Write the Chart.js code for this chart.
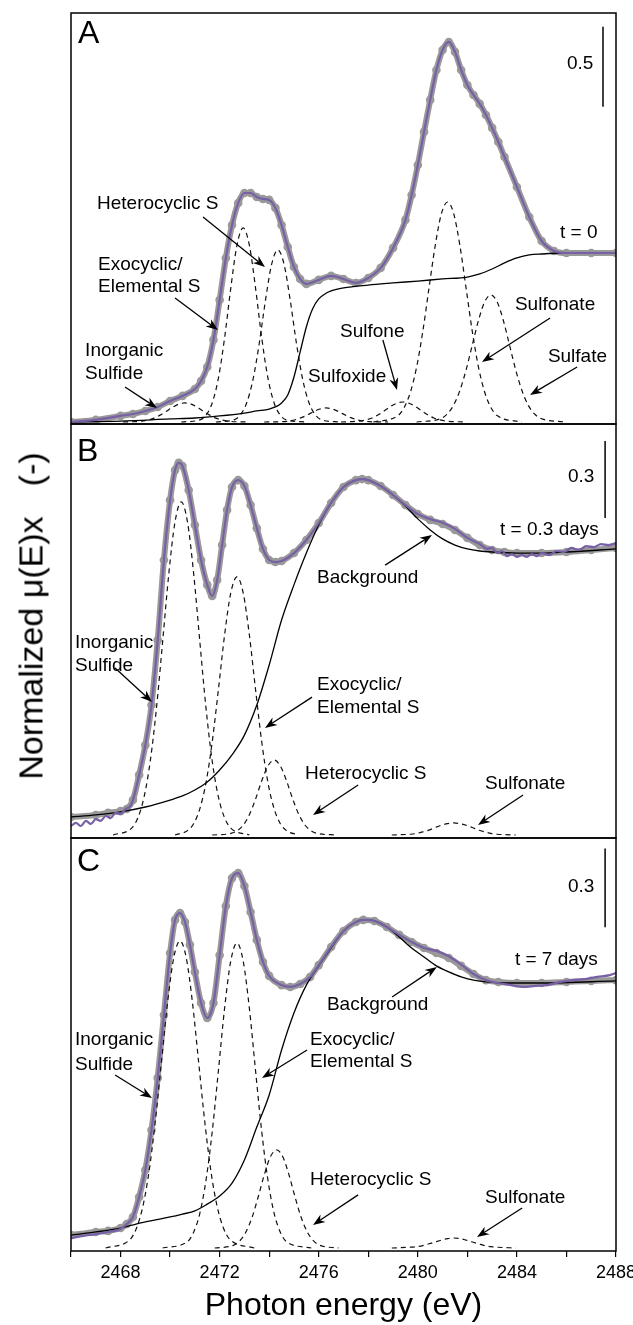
<!DOCTYPE html>
<html>
<head>
<meta charset="utf-8">
<script src="https://cdn.jsdelivr.net/npm/chart.js@4.4.1/dist/chart.umd.min.js"></script>
<style>
  html, body { margin: 0; padding: 0; background: #fff; }
  #wrap { position: relative; width: 633px; height: 1325px; overflow: hidden; }
  canvas { position: absolute; left: 0; }
  #ytitle {
    position: absolute; left: 31px; top: 616px;
    transform: translate(-50%, -50%) rotate(-90deg);
    font: 34px 'Liberation Sans', Arial, sans-serif; white-space: nowrap; color: #000;
  }
  #ytitle span { margin-left: 30px; }
</style>
</head>
<body>
<div id="wrap">
  <canvas id="panelA" width="633" height="430" style="top:0px"></canvas>
  <canvas id="panelB" width="633" height="426" style="top:418px"></canvas>
  <canvas id="panelC" width="633" height="493" style="top:832px"></canvas>
  <div id="ytitle">Normalized μ(E)x<span>(-)</span></div>
</div>
<script>
// ---- data: [photon energy (eV), normalized mu(E)x] ----

// panel A, t = 0
const fitA = [[2466,0],[2467,.013],[2468,.038],[2468.5,.050],[2469,.069],[2469.5,.094],[2470,.131],[2470.5,.163],
  [2471,.206],[2471.25,.256],[2471.5,.344],[2471.75,.513],[2472,.763],[2472.25,1.025],[2472.5,1.231],[2472.75,1.369],
  [2473,1.431],[2473.25,1.431],[2473.5,1.406],[2473.75,1.394],[2474,1.388],[2474.25,1.338],[2474.5,1.231],[2474.75,1.094],
  [2475,.969],[2475.25,.894],[2475.5,.863],[2476,.888],[2476.5,.913],[2477,.894],[2477.5,.869],[2478,.900],[2478.5,.963],
  [2479,1.088],[2479.5,1.263],[2479.75,1.419],[2480,1.606],[2480.25,1.813],[2480.5,2.013],[2480.75,2.200],[2481,2.325],
  [2481.25,2.375],[2481.5,2.313],[2481.75,2.200],[2482,2.106],[2482.25,2.044],[2482.5,1.988],[2482.75,1.919],[2483,1.838],
  [2483.25,1.750],[2483.5,1.656],[2484,1.469],[2484.5,1.281],[2485,1.131],[2485.5,1.069],[2486,1.056],[2487,1.056],[2488,1.056]];
const dataA = fitA;
const bgA = [[2466,0],[2468,.006],[2470,.019],[2471,.025],[2472,.038],[2473,.056],[2473.5,.069],[2474,.081],[2474.25,.094],
  [2474.5,.119],[2474.75,.169],[2475,.281],[2475.25,.438],[2475.5,.594],[2475.75,.706],[2476,.769],[2476.25,.800],[2476.5,.819],
  [2477,.838],[2478,.856],[2479,.869],[2480,.881],[2481,.894],[2482,.906],[2482.5,.925],[2483,.956],[2483.5,.994],[2484,1.025],
  [2484.5,1.044],[2485,1.050],[2486,1.056],[2488,1.056]];
const inorgA = [[2468.1,0],[2468.85,.005],[2469.1,.012],[2469.35,.024],[2469.6,.043],[2469.85,.067],[2470.1,.092],[2470.35,.112],
  [2470.6,.119],[2470.85,.112],[2471.1,.092],[2471.35,.067],[2471.6,.043],[2471.85,.024],[2472.1,.012],[2472.35,.005],[2473.1,0]];
const exoA = [[2470.45,0],[2471.2,.013],[2471.45,.042],[2471.7,.119],[2471.95,.274],[2472.2,.525],[2472.45,.837],[2472.7,1.105],
  [2472.95,1.213],[2473.2,1.105],[2473.45,.837],[2473.7,.525],[2473.95,.274],[2474.2,.119],[2474.45,.042],[2474.7,.013],[2475.45,0]];
const heteroA = [[2471.85,0],[2472.6,.015],[2472.85,.047],[2473.1,.123],[2473.35,.268],[2473.6,.492],[2473.85,.760],[2474.1,.986],
  [2474.35,1.075],[2474.6,.986],[2474.85,.760],[2475.1,.492],[2475.35,.268],[2475.6,.123],[2475.85,.047],[2476.1,.015],[2476.85,0]];
const sulfoxA = [[2473.8,0],[2474.55,.002],[2474.8,.006],[2475.05,.014],[2475.3,.027],[2475.55,.045],[2475.8,.065],[2476.05,.081],
  [2476.3,.088],[2476.55,.081],[2476.8,.065],[2477.05,.045],[2477.3,.027],[2477.55,.014],[2477.8,.006],[2478.05,.002],[2478.8,0]];
const sulfoneA = [[2476.9,0],[2477.65,.006],[2477.9,.013],[2478.15,.025],[2478.4,.045],[2478.65,.070],[2478.9,.097],[2479.15,.117],
  [2479.4,.125],[2479.65,.117],[2479.9,.097],[2480.15,.070],[2480.4,.045],[2480.65,.025],[2480.9,.013],[2481.15,.006],[2481.9,0]];
const sulfonateA = [[2478.2,0],[2479.2,.040],[2479.45,.091],[2479.7,.186],[2479.95,.342],[2480.2,.565],[2480.45,.835],[2480.7,1.101],
  [2480.95,1.301],[2481.2,1.375],[2481.45,1.301],[2481.7,1.101],[2481.95,.835],[2482.2,.565],[2482.45,.342],[2482.7,.186],
  [2482.95,.091],[2483.2,.040],[2484.2,0]];
const sulfateA = [[2479.95,0],[2480.95,.023],[2481.2,.052],[2481.45,.107],[2481.7,.198],[2481.95,.326],[2482.2,.482],[2482.45,.636],
  [2482.7,.751],[2482.95,.794],[2483.2,.751],[2483.45,.636],[2483.7,.482],[2483.95,.326],[2484.2,.198],[2484.45,.107],
  [2484.7,.052],[2484.95,.023],[2485.95,0]];

// panel B, t = 0.3 days
const fitB = [[2466,.070],[2467,.078],[2467.5,.086],[2468,.093],[2468.25,.101],[2468.5,.136],[2468.75,.234],[2469,.350],
  [2469.25,.506],[2469.5,.759],[2469.75,1.071],[2470,1.304],[2470.2,1.421],[2470.35,1.449],[2470.5,1.437],[2470.75,1.343],
  [2471,1.207],[2471.25,1.071],[2471.5,.974],[2471.7,.931],[2471.9,.993],[2472.1,1.129],[2472.3,1.266],[2472.5,1.355],
  [2472.75,1.382],[2473,1.359],[2473.25,1.285],[2473.5,1.195],[2473.75,1.114],[2474,1.071],[2474.25,1.063],[2474.5,1.067],
  [2475,1.098],[2475.5,1.149],[2476,1.215],[2476.5,1.293],[2477,1.355],[2477.5,1.382],[2477.75,1.386],[2478,1.382],
  [2478.5,1.359],[2479,1.324],[2479.5,1.285],[2480,1.250],[2480.5,1.227],[2481,1.211],[2481.5,1.188],[2482,1.157],
  [2482.5,1.129],[2483,1.110],[2483.5,1.102],[2484,1.098],[2485,1.098],[2486,1.102],[2487,1.110],[2488,1.118]];
const dataB = [[2466,.035],[2466.2,.047],[2466.4,.035],[2466.6,.055],[2466.8,.043],[2467,.062],[2467.2,.055],[2467.4,.074],
  [2467.6,.066],[2467.8,.086],[2468,.082],[2468.2,.101],[2468.4,.113],[2468.5,.136],[2468.75,.234],[2469,.350],[2469.25,.506],
  [2469.5,.759],[2469.75,1.071],[2470,1.304],[2470.2,1.421],[2470.35,1.449],[2470.5,1.437],[2470.75,1.343],[2471,1.207],
  [2471.25,1.071],[2471.5,.974],[2471.7,.931],[2471.9,.993],[2472.1,1.129],[2472.3,1.266],[2472.5,1.355],[2472.75,1.382],
  [2473,1.359],[2473.25,1.285],[2473.5,1.195],[2473.75,1.114],[2474,1.071],[2474.25,1.063],[2474.5,1.067],[2475,1.098],
  [2475.5,1.149],[2476,1.215],[2476.5,1.293],[2477,1.355],[2477.5,1.382],[2477.75,1.386],[2478,1.382],[2478.5,1.359],
  [2479,1.324],[2479.5,1.285],[2480,1.250],[2480.5,1.230],[2481,1.216],[2481.5,1.192],[2482,1.157],[2482.5,1.133],
  [2482.8,1.114],[2483,1.118],[2483.2,1.098],[2483.4,1.106],[2483.6,1.086],[2483.8,1.094],[2484,1.083],[2484.2,1.090],
  [2484.4,1.083],[2484.6,1.094],[2484.8,1.086],[2485,1.098],[2485.3,1.090],[2485.6,1.106],[2485.9,1.102],[2486.2,1.118],
  [2486.5,1.110],[2486.8,1.125],[2487.1,1.121],[2487.4,1.133],[2487.7,1.129],[2488,1.137]];
const bgB = [[2466,.070],[2467,.078],[2468,.090],[2469,.109],[2470,.136],[2470.5,.152],[2471,.175],[2471.5,.206],[2472,.253],
  [2472.5,.312],[2473,.389],[2473.5,.506],[2474,.662],[2474.5,.837],[2475,.974],[2475.5,1.098],[2476,1.207],[2476.5,1.293],
  [2477,1.355],[2477.5,1.382],[2477.75,1.386],[2478,1.382],[2478.5,1.359],[2479,1.324],[2479.5,1.281],[2480,1.231],
  [2480.5,1.188],[2481,1.153],[2481.5,1.129],[2482,1.114],[2482.5,1.106],[2483,1.102],[2484,1.098],[2485,1.098],
  [2486,1.102],[2488,1.114]];
const inorgB = [[2467.7,0],[2468.45,.027],[2468.7,.067],[2468.95,.148],[2469.2,.288],[2469.45,.494],[2469.7,.754],[2469.95,1.019],
  [2470.2,1.220],[2470.45,1.297],[2470.7,1.220],[2470.95,1.019],[2471.2,.754],[2471.45,.494],[2471.7,.288],[2471.95,.148],
  [2472.2,.067],[2472.45,.027],[2473.2,0]];
const exoB = [[2470.2,0],[2470.7,.017],[2470.95,.044],[2471.2,.102],[2471.45,.204],[2471.7,.362],[2471.95,.566],[2472.2,.779],
  [2472.45,.943],[2472.7,1.005],[2472.95,.943],[2473.2,.779],[2473.45,.566],[2473.7,.362],[2473.95,.204],[2474.2,.102],
  [2474.45,.044],[2474.7,.017],[2475.2,0]];
const heteroB = [[2471.7,0],[2472.45,.006],[2472.7,.016],[2472.95,.038],[2473.2,.079],[2473.45,.140],[2473.7,.211],[2473.95,.269],
  [2474.2,.292],[2474.45,.269],[2474.7,.211],[2474.95,.140],[2475.2,.079],[2475.45,.038],[2475.7,.016],[2475.95,.006],[2476.7,0]];
const sulfonateB = [[2478.95,0],[2479.7,.003],[2479.95,.006],[2480.2,.012],[2480.45,.019],[2480.7,.029],[2480.95,.038],[2481.2,.044],
  [2481.45,.047],[2481.7,.044],[2481.95,.038],[2482.2,.029],[2482.45,.019],[2482.7,.012],[2482.95,.006],[2483.2,.003],[2483.95,0]];

// panel C, t = 7 days
const fitC = [[2466,.049],[2467,.061],[2467.5,.065],[2468,.076],[2468.25,.091],[2468.5,.118],[2468.75,.194],[2469,.297],
  [2469.25,.449],[2469.5,.647],[2469.75,.886],[2470,1.122],[2470.2,1.248],[2470.4,1.274],[2470.6,1.240],[2470.8,1.153],
  [2471,1.050],[2471.25,.932],[2471.5,.875],[2471.75,.932],[2472,1.114],[2472.25,1.301],[2472.5,1.407],[2472.75,1.426],
  [2473,1.377],[2473.25,1.278],[2473.5,1.172],[2473.75,1.088],[2474,1.035],[2474.5,1.000],[2474.85,.993],[2475.25,1.004],
  [2475.65,1.031],[2476,1.076],[2476.5,1.145],[2477,1.206],[2477.5,1.240],[2477.8,1.248],[2478.25,1.244],[2478.75,1.221],
  [2479.25,1.191],[2479.75,1.164],[2480.25,1.141],[2480.75,1.122],[2481.25,1.103],[2481.75,1.073],[2482.25,1.042],
  [2482.75,1.019],[2483.25,1.012],[2484,1.008],[2485,1.008],[2486,1.012],[2487,1.016],[2488,1.019]];
const dataC = [[2466,.038],[2466.5,.046],[2467,.053],[2467.5,.061],[2468,.072],[2468.25,.091],[2468.5,.118],[2468.75,.194],
  [2469,.297],[2469.25,.449],[2469.5,.647],[2469.75,.886],[2470,1.122],[2470.2,1.248],[2470.4,1.274],[2470.6,1.240],
  [2470.8,1.153],[2471,1.050],[2471.25,.932],[2471.5,.875],[2471.75,.932],[2472,1.114],[2472.25,1.301],[2472.5,1.407],
  [2472.75,1.426],[2473,1.377],[2473.25,1.278],[2473.5,1.172],[2473.75,1.088],[2474,1.035],[2474.5,1.000],[2474.85,.993],
  [2475.25,1.004],[2475.65,1.031],[2476,1.076],[2476.5,1.145],[2477,1.206],[2477.5,1.240],[2477.8,1.248],[2478.25,1.244],
  [2478.75,1.221],[2479.25,1.191],[2479.75,1.164],[2480.25,1.141],[2480.75,1.130],[2481.25,1.110],[2481.75,1.078],
  [2482.25,1.042],[2482.75,1.019],[2483.25,1.008],[2483.75,1.000],[2484.25,.993],[2484.75,.997],[2485.25,1.000],
  [2485.75,1.012],[2486.25,1.019],[2486.75,1.023],[2487.25,1.031],[2487.75,1.038],[2488,1.046]];
const bgC = [[2466,.049],[2467,.061],[2468,.076],[2469,.099],[2470,.118],[2470.5,.129],[2471,.141],[2471.5,.167],[2472,.198],
  [2472.5,.247],[2473,.335],[2473.5,.460],[2474,.582],[2474.5,.753],[2475,.894],[2475.5,1.000],[2476,1.073],[2476.5,1.141],
  [2477,1.206],[2477.5,1.240],[2477.8,1.248],[2478.25,1.244],[2478.75,1.221],[2479.25,1.183],[2479.75,1.141],[2480.25,1.107],
  [2480.75,1.073],[2481.25,1.050],[2481.75,1.031],[2482.25,1.019],[2482.75,1.012],[2483.5,1.008],[2485,1.008],[2488,1.016]];
const inorgC = [[2467.4,0],[2468.4,.034],[2468.65,.077],[2468.9,.158],[2469.15,.291],[2469.4,.480],[2469.65,.709],[2469.9,.936],
  [2470.15,1.105],[2470.4,1.168],[2470.65,1.105],[2470.9,.936],[2471.15,.709],[2471.4,.480],[2471.65,.291],[2471.9,.158],
  [2472.15,.077],[2472.4,.034],[2473.4,0]];
const exoC = [[2469.7,0],[2470.7,.024],[2470.95,.060],[2471.2,.132],[2471.45,.258],[2471.7,.442],[2471.95,.674],[2472.2,.912],
  [2472.45,1.092],[2472.7,1.160],[2472.95,1.092],[2473.2,.912],[2473.45,.674],[2473.7,.442],[2473.95,.258],[2474.2,.132],
  [2474.45,.060],[2474.7,.024],[2475.7,0]];
const heteroC = [[2471.8,0],[2472.55,.010],[2472.8,.026],[2473.05,.059],[2473.3,.114],[2473.55,.192],[2473.8,.278],[2474.05,.347],
  [2474.3,.373],[2474.55,.347],[2474.8,.278],[2475.05,.192],[2475.3,.114],[2475.55,.059],[2475.8,.026],[2476.05,.010],[2476.8,0]];
const sulfonateC = [[2478.95,0],[2479.7,.003],[2479.95,.005],[2480.2,.009],[2480.45,.016],[2480.7,.023],[2480.95,.030],[2481.2,.036],
  [2481.45,.038],[2481.7,.036],[2481.95,.030],[2482.2,.023],[2482.45,.016],[2482.7,.009],[2482.95,.005],[2483.2,.003],[2483.95,0]];

const energyTicks = [2468, 2472, 2476, 2480, 2484, 2488];

// ---- annotations (energy, value) ----
const notesA = {
  texts: [
    { t: 'A', e: 2466.28, v: 2.425, size: 32 },
    { t: 'Heterocyclic S', e: 2467.05, v: 1.3625 },
    { t: 'Exocyclic/', e: 2467.09, v: 0.981 },
    { t: 'Elemental S', e: 2467.09, v: 0.844 },
    { t: 'Inorganic', e: 2466.57, v: 0.444 },
    { t: 'Sulfide', e: 2466.57, v: 0.300 },
    { t: 'Sulfoxide', e: 2475.57, v: 0.281 },
    { t: 'Sulfone', e: 2476.86, v: 0.5625 },
    { t: 'Sulfonate', e: 2483.92, v: 0.731 },
    { t: 'Sulfate', e: 2485.25, v: 0.406 },
    { t: 't = 0', e: 2485.74, v: 1.181 },
    { t: '0.5', e: 2486.02, v: 2.2375 }
  ],
  arrows: [
    [2471.33, 1.281, 2473.83, 0.969],
    [2470.20, 0.775, 2471.93, 0.575],
    [2468.18, 0.219, 2469.47, 0.0875],
    [2478.59, 0.5125, 2479.16, 0.20],
    [2485.34, 0.65, 2482.59, 0.375],
    [2486.43, 0.344, 2484.53, 0.169]
  ],
  bar: [2487.475, 2.47, 1.97]
};
const notesB = {
  texts: [
    { t: 'B', e: 2466.24, v: 1.491, size: 32 },
    { t: 'Inorganic', e: 2466.16, v: 0.748 },
    { t: 'Sulfide', e: 2466.16, v: 0.658 },
    { t: 'Background', e: 2475.93, v: 1.001 },
    { t: 'Exocyclic/', e: 2475.93, v: 0.584 },
    { t: 'Elemental S', e: 2475.93, v: 0.4945 },
    { t: 'Heterocyclic S', e: 2475.45, v: 0.2375 },
    { t: 'Sulfonate', e: 2482.71, v: 0.1986 },
    { t: '0.3', e: 2486.06, v: 1.394 },
    { t: 't = 0.3 days', e: 2483.32, v: 1.188 }
  ],
  arrows: [
    [2467.78, 0.650, 2469.27, 0.518],
    [2478.68, 1.051, 2480.57, 1.168],
    [2475.73, 0.537, 2473.83, 0.417],
    [2477.59, 0.195, 2475.77, 0.078],
    [2484.25, 0.156, 2482.43, 0.039]
  ],
  bar: [2487.56, 1.534, 1.234]
};
const notesC = {
  texts: [
    { t: 'C', e: 2466.24, v: 1.468, size: 32 },
    { t: 'Inorganic', e: 2466.16, v: 0.791 },
    { t: 'Sulfide', e: 2466.16, v: 0.696 },
    { t: 'Background', e: 2476.33, v: 0.924 },
    { t: 'Exocyclic/', e: 2475.65, v: 0.791 },
    { t: 'Elemental S', e: 2475.65, v: 0.7075 },
    { t: 'Heterocyclic S', e: 2475.65, v: 0.259 },
    { t: 'Sulfonate', e: 2482.71, v: 0.190 },
    { t: '0.3', e: 2486.06, v: 1.373 },
    { t: 't = 7 days', e: 2483.92, v: 1.0955 }
  ],
  arrows: [
    [2467.78, 0.658, 2469.27, 0.571],
    [2478.96, 0.955, 2480.77, 1.069],
    [2475.53, 0.753, 2473.71, 0.647],
    [2477.59, 0.202, 2475.77, 0.0875],
    [2484.21, 0.152, 2482.39, 0.042]
  ],
  bar: [2487.56, 1.52, 1.22]
};

// ---- drawing ----
const FONT = "'Liberation Sans', Arial, Helvetica, sans-serif";
Chart.defaults.font.family = FONT;
Chart.defaults.color = '#000';

const GREY = '#999999';
const PURPLE = '#7760a6';

const toXY = pts => pts.map(([x, y]) => ({ x, y }));

function fitSet(pts) {
  return { data: toXY(pts), borderColor: GREY, borderWidth: 6, pointRadius: 4.3,
    pointBackgroundColor: GREY, pointBorderWidth: 0, order: 6 };
}
function dataSet(pts) {
  return { data: toXY(pts), borderColor: PURPLE, borderWidth: 2.2, pointRadius: 0, order: 1 };
}
function bgSet(pts) {
  return { data: toXY(pts), borderColor: '#000', borderWidth: 1.3, pointRadius: 0, order: 3 };
}
function peakSet(pts) {
  return { data: toXY(pts), borderColor: '#111', borderWidth: 1.2, borderDash: [5, 4], pointRadius: 0, order: 4 };
}

const decor = {
  id: 'decor',
  afterDatasetsDraw(chart, args, opts) {
    const { ctx, chartArea: a } = chart;
    const xs = chart.scales.x, ys = chart.scales.y;
    ctx.save();
    ctx.strokeStyle = '#000';
    ctx.lineWidth = 1.5;
    ctx.strokeRect(a.left, a.top, a.right - a.left, a.bottom - a.top);

    ctx.fillStyle = '#000';
    ctx.textAlign = 'left';
    ctx.textBaseline = 'middle';
    opts.texts.forEach(n => {
      ctx.font = (n.size || 19) + 'px ' + FONT;
      ctx.fillText(n.t, xs.getPixelForValue(n.e), ys.getPixelForValue(n.v));
    });

    ctx.lineWidth = 1.3;
    opts.arrows.forEach(([e1, v1, e2, v2]) => {
      const x1 = xs.getPixelForValue(e1), y1 = ys.getPixelForValue(v1);
      const x2 = xs.getPixelForValue(e2), y2 = ys.getPixelForValue(v2);
      const ang = Math.atan2(y2 - y1, x2 - x1);
      const c = Math.cos(ang), s = Math.sin(ang);
      const L = 12, W = 4.5;
      ctx.beginPath();
      ctx.moveTo(x1, y1);
      ctx.lineTo(x2 - L * 0.7 * c, y2 - L * 0.7 * s);
      ctx.stroke();
      ctx.beginPath();
      ctx.moveTo(x2, y2);
      ctx.lineTo(x2 - L * c + W * s, y2 - L * s - W * c);
      ctx.lineTo(x2 - L * 0.7 * c, y2 - L * 0.7 * s);
      ctx.lineTo(x2 - L * c - W * s, y2 - L * s + W * c);
      ctx.closePath();
      ctx.fill();
    });

    const [be, b1, b2] = opts.bar;
    ctx.lineWidth = 1.5;
    ctx.beginPath();
    ctx.moveTo(xs.getPixelForValue(be), ys.getPixelForValue(b1));
    ctx.lineTo(xs.getPixelForValue(be), ys.getPixelForValue(b2));
    ctx.stroke();
    ctx.restore();
  }
};

function makePanel(id, datasets, yMin, yMax, padding, notes, withAxis) {
  const x = { type: 'linear', min: 2466, max: 2488, display: false };
  if (withAxis) {
    Object.assign(x, {
      display: true,
      position: 'bottom',
      border: { display: false },
      grid: { display: true, drawOnChartArea: false, drawTicks: true, tickLength: 6, color: '#000', lineWidth: 1.2 },
      ticks: {
        stepSize: 2, autoSkip: false, maxRotation: 0, padding: 5, color: '#000', font: { size: 18 },
        callback: v => (energyTicks.includes(v) ? String(v) : '')
      },
      title: { display: true, text: 'Photon energy (eV)', color: '#000', font: { size: 32 }, padding: { top: 0, bottom: 0 } },
      afterFit: s => { s.height = 74; s.paddingLeft = 0; s.paddingRight = 0; }
    });
  }
  return new Chart(document.getElementById(id), {
    type: 'line',
    data: { datasets },
    options: {
      responsive: false,
      animation: false,
      events: [],
      layout: { padding },
      elements: { line: { cubicInterpolationMode: 'monotone' } },
      plugins: { legend: { display: false }, tooltip: { enabled: false }, decor: notes },
      scales: { x, y: { type: 'linear', min: yMin, max: yMax, display: false } }
    },
    plugins: [decor]
  });
}

makePanel('panelA', [
  fitSet(fitA), dataSet(dataA), bgSet(bgA),
  peakSet(inorgA), peakSet(exoA), peakSet(heteroA), peakSet(sulfoxA),
  peakSet(sulfoneA), peakSet(sulfonateA), peakSet(sulfateA)
], -0.0125, 2.556, { left: 71, right: 17, top: 13, bottom: 6 }, notesA, false);

makePanel('panelB', [
  fitSet(fitB), dataSet(dataB), bgSet(bgB),
  peakSet(inorgB), peakSet(exoB), peakSet(heteroB), peakSet(sulfonateB)
], -0.0117, 1.6005, { left: 71, right: 17, top: 6, bottom: 6 }, notesB, false);

makePanel('panelC', [
  fitSet(fitC), dataSet(dataC), bgSet(bgC),
  peakSet(inorgC), peakSet(exoC), peakSet(heteroC), peakSet(sulfonateC)
], -0.0114, 1.5595, { left: 71, right: 17, top: 6, bottom: 0 }, notesC, true);
</script>
</body>
</html>
